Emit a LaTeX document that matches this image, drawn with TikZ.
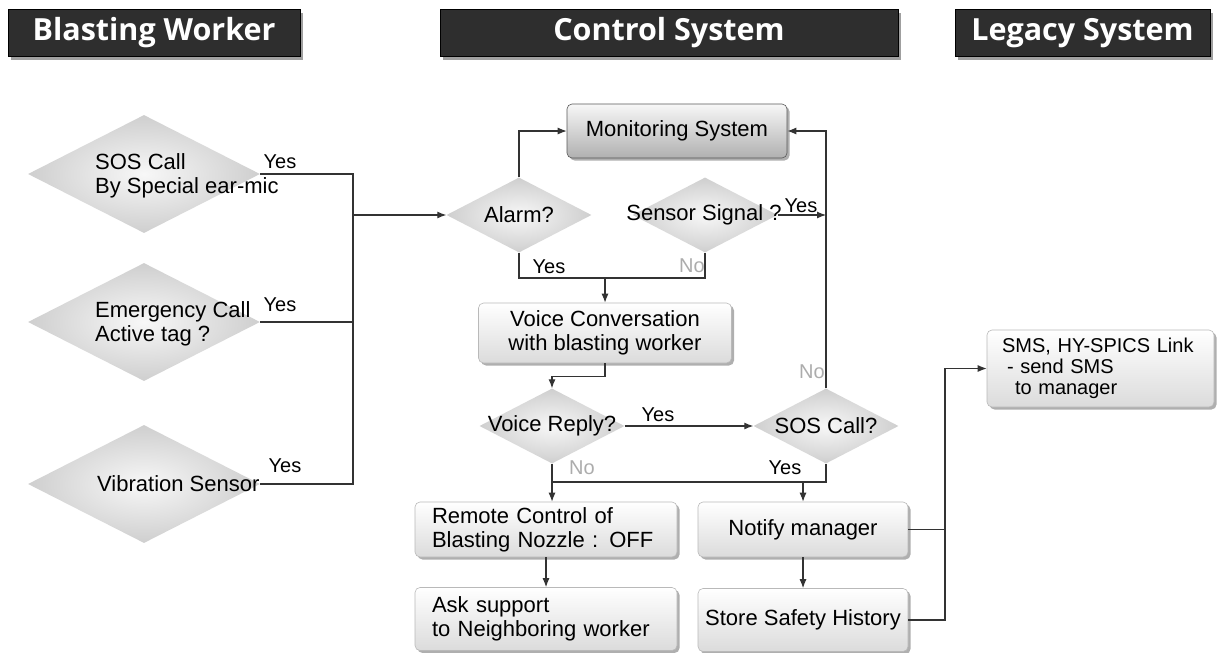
\documentclass[tikz,border=0pt]{standalone}
\usepackage{fontspec}
\setmainfont{Liberation Sans}
\newfontfamily\hdrfam{Open Sans}
\usetikzlibrary{shapes.geometric,shadows,arrows.meta}
\newcommand\boxfont{\fontsize{22}{24}\selectfont}
\newcommand\labfont{\fontsize{20}{22}\selectfont}
\newcommand\smsfont{\fontsize{20}{21}\selectfont}
\begin{document}
\begin{tikzpicture}[x=1pt,y=-1pt,
  line/.style={draw=black!80, line width=1.1pt},
  arr/.style={line, -{Latex[length=9pt,width=7pt]}},
  hdr/.style={fill=black!82, draw=black, line width=0.6pt, text=white,
    font=\hdrfam\bfseries\fontsize{30.5}{33}\selectfont, minimum height=47pt, inner sep=0pt,
    drop shadow={shadow xshift=3pt, shadow yshift=-3pt, fill=gray!75, opacity=1}},
  box/.style={rounded corners=5pt, draw=gray!55, line width=0.6pt, top color=white,
    bottom color=gray!28, inner sep=0pt, font=\boxfont, align=center,
    drop shadow={shadow xshift=2.5pt, shadow yshift=-2.5pt, fill=gray!70, opacity=0.9}},
  mon/.style={box, draw=black!65, top color=gray!6, bottom color=gray!62},
  lbox/.style={box, align=left, inner xsep=17pt, text width=228pt},
  dia/.style={diamond, inner sep=0pt, draw=none, inner color=gray!6, outer color=gray!38},
  txt/.style={inner sep=0pt, font=\boxfont, align=left},
  lab/.style={inner sep=0pt, font=\labfont},
  glab/.style={lab, text=gray!65}
]
\useasboundingbox (0,0) rectangle (1219,653);

% headers
\node[hdr, minimum width=292pt] (h1) at (154,33) {Blasting Worker};
\node[hdr, minimum width=458pt] (h2) at (669,33) {Control System};
\node[hdr, minimum width=255pt] (h3) at (1082.5,33) {Legacy System};

% left decisions
\node[dia, minimum width=232pt, minimum height=118pt] (d1) at (144,174) {};
\node[txt, anchor=west] (t1) at (95,176) {SOS Call\\By Special ear-mic};
\node[dia, minimum width=232pt, minimum height=118pt] (d2) at (144,322) {};
\node[txt, anchor=west] (t2) at (95,324) {Emergency Call\\Active tag ?};
\node[dia, minimum width=232pt, minimum height=118pt] (d3) at (144,484) {};
\node[txt, anchor=west] (t3) at (97,484) {Vibration Sensor};

% control system
\node[mon, minimum width=220pt, minimum height=54pt] (mon) at (677,131) {Monitoring System};
\node[dia, minimum width=145pt, minimum height=75pt] (alarm) at (519,215) {};
\node[txt] (talarm) at (519,215) {Alarm?};
\node[dia, minimum width=145pt, minimum height=75pt] (sensor) at (705,215) {};
\node[txt] (tsensor) at (704,215) {Sensor Signal ?};
\node[box, minimum width=253pt, minimum height=60pt] (voice) at (605,333) {Voice Conversation\\with blasting worker};
\node[dia, minimum width=145pt, minimum height=75pt] (reply) at (552,426) {};
\node[txt] (treply) at (552,426) {Voice Reply?};
\node[dia, minimum width=145pt, minimum height=75pt] (sos) at (826,426) {};
\node[txt] (tsos) at (826,426) {SOS Call?};
\node[lbox, minimum height=55pt] (remote) at (546,529.5) {Remote Control of\\Blasting Nozzle : OFF};
\node[lbox, minimum height=63pt] (ask) at (546,619) {Ask support\\to Neighboring worker};
\node[box, minimum width=210pt, minimum height=55pt] (notify) at (803,529.5) {Notify manager};
\node[box, minimum width=210pt, minimum height=63pt] (store) at (803,620) {Store Safety History};

% legacy
\node[box, font=\smsfont, align=left, inner xsep=15pt, text width=197pt, minimum height=77pt] (sms) at (1100.5,368.5)
  {SMS, HY-SPICS Link\\\hspace*{5pt}- send SMS\\\hspace*{13pt}to manager};

% connectors left
\coordinate (jl) at (353,215);
\draw[line] (d1.east) -| (jl);
\draw[line] (d3.east) -| (jl);
\draw[line] (d2.east) -- (d2.east -| jl);
\draw[arr] (jl) -- (alarm.west);
\node[lab] (y1) at (280,162) {Yes};
\node[lab] (y2) at (280,305) {Yes};
\node[lab] (y3) at (285,466) {Yes};

% connectors center
\draw[arr] (alarm.north) |- (mon.west);
\draw[arr] (sos.north) |- (mon.east);
\draw[arr] (sensor.east) -- (sensor.east -| sos.north);
\coordinate (j1) at (605,278);
\draw[line] (alarm.south) |- (j1) -| (sensor.south);
\draw[arr] (j1) -- (voice.north);
\draw[arr] (voice.south) -- ++(0,13) -| (reply.north);
\draw[arr] (reply.east) -- (sos.west);
\coordinate (j2) at (552,482);
\draw[line] (reply.south) -- (j2) -| (sos.south);
\draw[arr] (j2) -- (j2 |- remote.north);
\draw[arr] (notify.north |- j2) -- (notify.north);
\draw[arr] (remote.south) -- (ask.north);
\draw[arr] (notify.south) -- (store.north);
\coordinate (v) at (945,368.5);
\draw[arr] (store.east) -| (v) -- (sms.west);
\draw[line] (notify.east) -- (notify.east -| v);

\node[lab] (ys) at (801,206) {Yes};
\node[lab] (ya) at (549,267) {Yes};
\node[glab] (ns) at (692,266) {No};
\node[lab] (yr) at (658,415) {Yes};
\node[glab] (nsos) at (812,372) {No};
\node[glab] (nr) at (582,468) {No};
\node[lab] (ysos) at (785,468) {Yes};
\end{tikzpicture}
\end{document}
